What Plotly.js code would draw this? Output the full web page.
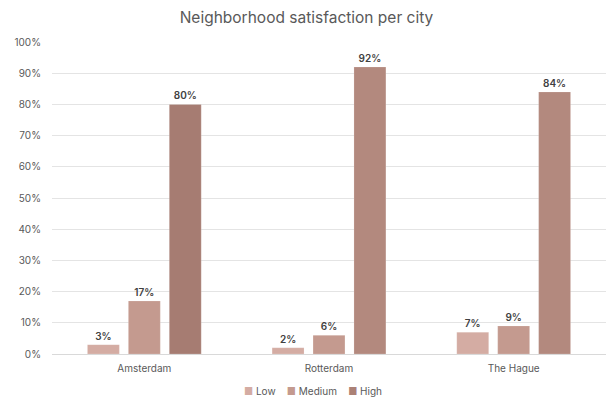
<!DOCTYPE html>
<html>
<head>
<meta charset="utf-8">
<script src="https://cdn.plot.ly/plotly-3.0.1.min.js"></script>
<style>
  html, body { margin: 0; padding: 0; background: #fff; }
  #chart { width: 613px; height: 401px; }
</style>
</head>
<body>
<div id="chart"></div>
<script>
// Share of residents per satisfaction level, by city
const cities = ['Amsterdam', 'Rotterdam', 'The Hague'];
const lowValues = [0.03, 0.02, 0.07];
const mediumValues = [0.17, 0.06, 0.09];
const highValues = [0.80, 0.92, 0.84];
const seriesNames = ['Low', 'Medium', 'High'];
const yTickValues = [0, 0.1, 0.2, 0.3, 0.4, 0.5, 0.6, 0.7, 0.8, 0.9, 1.0];
const yTickLabels = ['0%', '10%', '20%', '30%', '40%', '50%', '60%', '70%', '80%', '90%', '100%'];

const fontFamily = 'Inter, "Open Sans", "Liberation Sans", sans-serif';
const seriesColors = ['#d4aca3', '#c49a8f', '#ab8176'];

function pct(v) { return Math.round(v * 100) + '%'; }

function barTrace(name, values, color) {
  return {
    type: 'bar',
    name: name,
    x: cities,
    y: values,
    text: values.map(pct),
    textposition: 'outside',
    cliponaxis: false,
    textfont: { family: fontFamily, size: 10, color: '#404040', weight: 600 },
    marker: { color: color, line: { color: 'rgba(255,255,255,0.35)', width: 0.5 } },
    hoverinfo: 'x+y+name'
  };
}

const data = [
  barTrace(seriesNames[0], lowValues, seriesColors[0]),
  barTrace(seriesNames[1], mediumValues, seriesColors[1]),
  barTrace(seriesNames[2], highValues, ['#a67c72', '#b3897e', '#b3897e'])
];

// Compact legend row: small coloured squares followed by the series names
const legendText = seriesNames
  .map((n, i) => '<span style="color:' + seriesColors[i] + '">■</span>\u00a0' + n)
  .join('\u00a0\u00a0\u00a0\u00a0');

const layout = {
  width: 613,
  height: 401,
  margin: { l: 52, r: 7, t: 42, b: 47 },
  paper_bgcolor: '#ffffff',
  plot_bgcolor: '#ffffff',
  font: { family: fontFamily, color: '#595959', size: 10 },
  title: {
    text: 'Neighborhood satisfaction per city',
    font: { family: fontFamily, size: 15.5, color: '#595959' },
    x: 0.5,
    xanchor: 'center',
    y: 0.955,
    yanchor: 'middle'
  },
  barmode: 'group',
  bargap: 0.335,
  bargroupgap: 0.22,
  showlegend: false,
  annotations: [{
    text: legendText,
    xref: 'paper',
    yref: 'paper',
    x: 0.472,
    y: -0.119,
    xanchor: 'center',
    yanchor: 'middle',
    showarrow: false,
    font: { family: fontFamily, size: 10, color: '#595959' }
  }],
  xaxis: {
    type: 'category',
    showgrid: false,
    showline: true,
    linecolor: '#d9d9d9',
    linewidth: 1,
    ticks: '',
    tickfont: { family: fontFamily, size: 10, color: '#595959' },
    ticklabelstandoff: 5
  },
  yaxis: {
    range: [0, 1.0],
    tickvals: yTickValues,
    ticktext: yTickLabels,
    showgrid: true,
    gridcolor: '#e4e4e4',
    gridwidth: 1,
    zeroline: false,
    showline: false,
    ticks: '',
    tickfont: { family: fontFamily, size: 10, color: '#595959' },
    ticklabelstandoff: 10
  }
};

Plotly.newPlot('chart', data, layout, { displayModeBar: false, staticPlot: true });
</script>
</body>
</html>
